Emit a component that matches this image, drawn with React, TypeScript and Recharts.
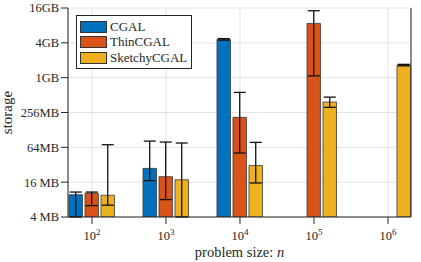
import React from 'react';
import { BarChart, Bar, XAxis, YAxis, CartesianGrid, ErrorBar, Legend } from 'recharts';

// problem size exponents: n = 10^k
const exponents = [2, 3, 4, 5, 6];

// storage in MB (null = run not available)
const cgal = [9.7, 27.7, 4700, null, null];
const cgalLow = [4, 17, 4550, null, null];
const cgalHigh = [10.8, 82, 4850, null, null];

const thinCgal = [10.3, 19.9, 211, 8870, null];
const thinLow = [6.3, 8, 51, 1100, null];
const thinHigh = [10.8, 79, 570, 14700, null];

const sketchyCgal = [9.5, 17.6, 31, 388, 1690];
const sketchyLow = [6.4, 4, 15.5, 314, 1640];
const sketchyHigh = [71, 76, 78, 472, 1740];

const yTickMB = [4, 16, 64, 256, 1024, 4096, 16384];
const yTickLabels = ['4 MB', '16 MB', '64MB', '256MB', '1GB', '4GB', '16GB'];

const COLORS = {
  cgal: '#0072BD',
  thin: '#D95319',
  sketchy: '#EDB120',
};
const AXIS = '#262626';
const FONT = '"Liberation Serif", "DejaVu Serif", serif';

const lg = (v: number | null) => (v == null ? null : Math.log2(v));
const errOf = (v: number | null, lo: number | null, hi: number | null) =>
  v == null || lo == null || hi == null ? null : [Math.log2(v) - Math.log2(lo), Math.log2(hi) - Math.log2(v)];

const data = exponents.map((k, i) => ({
  x: k,
  cgal: lg(cgal[i]),
  cgalErr: errOf(cgal[i], cgalLow[i], cgalHigh[i]),
  thin: lg(thinCgal[i]),
  thinErr: errOf(thinCgal[i], thinLow[i], thinHigh[i]),
  sketchy: lg(sketchyCgal[i]),
  sketchyErr: errOf(sketchyCgal[i], sketchyLow[i], sketchyHigh[i]),
}));

const yTicks = yTickMB.map(v => Math.log2(v));
const yLabelOf = (v: number) => yTickLabels[yTicks.indexOf(v)] ?? '';

const XTick = ({ x, y, payload }: any) => (
  <text x={x} y={y + 14} textAnchor="middle" fill={AXIS} fontSize={12.5} fontFamily={FONT}>
    10<tspan dy={-5} fontSize={9}>{payload.value}</tspan>
  </text>
);

const NoTick = () => null;

const LegendBox = () => {
  const items = [
    { name: 'CGAL', color: COLORS.cgal },
    { name: 'ThinCGAL', color: COLORS.thin },
    { name: 'SketchyCGAL', color: COLORS.sketchy },
  ];
  return (
    <div style={{ border: `1px solid ${AXIS}`, background: '#fff', padding: '3px 4px 2px 3px', fontFamily: FONT, fontSize: 13, color: AXIS }}>
      {items.map(it => (
        <div key={it.name} style={{ display: 'flex', alignItems: 'center', height: 15.5 }}>
          <span style={{ width: 27, height: 12, background: it.color, border: '1px solid #333', marginRight: 3, boxSizing: 'border-box' }} />
          <span style={{ lineHeight: '14px' }}>{it.name}</span>
        </div>
      ))}
    </div>
  );
};

export default function App() {
  return (
    <div style={{ position: 'absolute', left: 0, top: 0, width: 421, height: 262, background: '#fff' }}>
      <BarChart
        width={421}
        height={262}
        data={data}
        margin={{ top: 8, right: 0, left: 0, bottom: 0 }}
        barGap={2.5}
      >
        <CartesianGrid stroke="#e3e3e3" />
        <XAxis
          dataKey="x"
          type="number"
          domain={[1.676, 6.311]}
          ticks={exponents}
          allowDataOverflow
          height={45}
          tickSize={7}
          tick={<XTick />}
          stroke={AXIS}
          tickLine={{ stroke: AXIS }}
          label={{
            content: ({ viewBox }: any) => (
              <text x={viewBox.x + viewBox.width / 2} y={257} textAnchor="middle" fill={AXIS} fontSize={14.5} fontFamily={FONT}>
                problem size: <tspan fontStyle="italic">n</tspan>
              </text>
            ),
          }}
        />
        <XAxis
          xAxisId="top"
          orientation="top"
          dataKey="x"
          type="number"
          domain={[1.676, 6.311]}
          ticks={exponents}
          allowDataOverflow
          height={0}
          tickSize={7}
          tick={NoTick}
          stroke={AXIS}
        />
        <YAxis
          type="number"
          domain={[2, 14]}
          ticks={yTicks}
          allowDataOverflow
          width={68}
          tickSize={7}
          tickMargin={2}
          tickFormatter={yLabelOf}
          tick={{ fill: AXIS, fontSize: 12.5, fontFamily: FONT }}
          stroke={AXIS}
          label={{
            content: ({ viewBox }: any) => (
              <text
                x={12}
                y={viewBox.y + viewBox.height / 2}
                textAnchor="middle"
                transform={`rotate(-90, 12, ${viewBox.y + viewBox.height / 2})`}
                fill={AXIS}
                fontSize={15}
                fontFamily={FONT}
              >
                storage
              </text>
            ),
          }}
        />
        <YAxis
          yAxisId="right"
          orientation="right"
          type="number"
          domain={[2, 14]}
          ticks={yTicks}
          width={10}
          tickSize={7}
          tick={NoTick}
          stroke={AXIS}
        />
        <Legend
          layout="vertical"
          align="center"
          verticalAlign="middle"
          wrapperStyle={{ top: 15, left: 76, width: 'auto', right: 'auto', bottom: 'auto' }}
          content={<LegendBox />}
        />
        <Bar dataKey="cgal" name="CGAL" fill={COLORS.cgal} stroke="#3a3a3a" strokeWidth={0.8} barSize={13.5} isAnimationActive={false}>
          <ErrorBar dataKey="cgalErr" direction="y" width={6} stroke="#111" strokeWidth={1.3} />
        </Bar>
        <Bar dataKey="thin" name="ThinCGAL" fill={COLORS.thin} stroke="#3a3a3a" strokeWidth={0.8} barSize={13.5} isAnimationActive={false}>
          <ErrorBar dataKey="thinErr" direction="y" width={6} stroke="#111" strokeWidth={1.3} />
        </Bar>
        <Bar dataKey="sketchy" name="SketchyCGAL" fill={COLORS.sketchy} stroke="#3a3a3a" strokeWidth={0.8} barSize={13.5} isAnimationActive={false}>
          <ErrorBar dataKey="sketchyErr" direction="y" width={6} stroke="#111" strokeWidth={1.3} />
        </Bar>
      </BarChart>
    </div>
  );
}
